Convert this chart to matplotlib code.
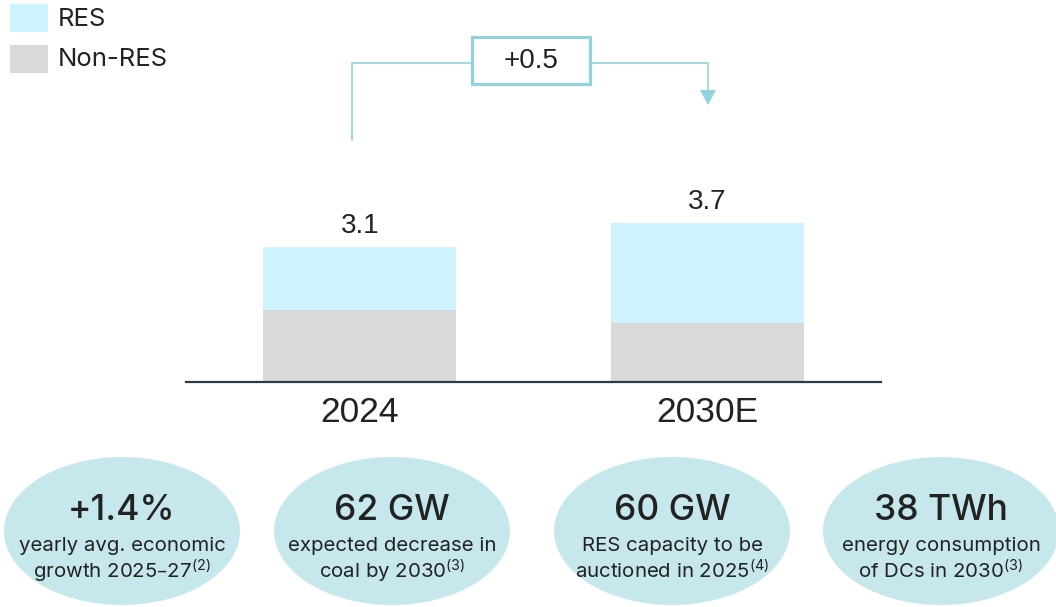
import numpy as np
import matplotlib
matplotlib.use("Agg")
import matplotlib.pyplot as plt
from matplotlib.patches import Rectangle, Ellipse, Polygon

plt.rcParams['font.family'] = ['Inter', 'DejaVu Sans']
plt.rcParams['mathtext.default'] = 'regular'

# data
years = ['2024', '2030E']
non_res = [1.65, 1.36]
res = [1.45, 2.30]
totals = ['3.1', '3.7']
delta_label = '+0.5'
kpi_big = ['+1.4%', '62 GW', '60 GW', '38 TWh']
kpi_line1 = ['yearly avg. economic', 'expected decrease in', 'RES capacity to be', 'energy consumption']
kpi_line2 = ['growth 2025\u201327$^{(2)}$', 'coal by 2030$^{(3)}$', 'auctioned in 2025$^{(4)}$', 'of DCs in 2030$^{(3)}$']

RES_COL = '#cdf4fc'
NON_COL = '#d9d9d9'
LINE_COL = '#8fd3de'
OVAL_COL = '#c6e8ed'
TXT = '#222222'

W, H = 1056, 607
fig = plt.figure(figsize=(W / 100, H / 100), dpi=100)

# bar chart axes (pixel layout)
ax = fig.add_axes([186 / W, (H - 382) / H, 695 / W, (382 - 100) / H])
x = np.arange(len(years))
ax.bar(x, non_res, width=0.556, color=NON_COL)
ax.bar(x, res, width=0.556, bottom=non_res, color=RES_COL)
for i in range(len(years)):
    ax.annotate(totals[i], (x[i], non_res[i] + res[i]), xytext=(0, 15),
                textcoords='offset points', ha='center', va='center',
                fontsize=20, color=TXT, family='Liberation Sans')
ax.set_xlim(-0.5, 1.5)
ax.set_ylim(0, (382 - 100) / 43.5)
ax.set_xticks(x)
ax.set_xticklabels(years, fontsize=25.5, color=TXT, family='Liberation Sans')
ax.tick_params(axis='x', length=0, pad=10)
ax.set_yticks([])
for s in ['top', 'right', 'left']:
    ax.spines[s].set_visible(False)
ax.spines['bottom'].set_color('#2b3b4c')
ax.spines['bottom'].set_linewidth(1.6)

# overlay for decorations, pixel coords
ov = fig.add_axes([0, 0, 1, 1])
ov.set_xlim(0, W)
ov.set_ylim(H, 0)
ov.axis('off')

# legend
ov.add_patch(Rectangle((10, 4), 38, 28, color=RES_COL, lw=0))
ov.add_patch(Rectangle((10, 45), 38, 28, color=NON_COL, lw=0))
ov.text(58, 19, 'RES', fontsize=18.5, va='center', color=TXT)
ov.text(58, 60, 'Non-RES', fontsize=18.5, va='center', color=TXT)

# change connector
ov.plot([352, 352, 472], [140, 63, 63], color=LINE_COL, lw=1.2)
ov.plot([590, 708, 708], [63, 63, 92], color=LINE_COL, lw=1.2)
ov.add_patch(Polygon([(700, 90), (716, 90), (708, 105)], color=LINE_COL, lw=0))
ov.add_patch(Rectangle((472, 37), 118, 47, facecolor='white', edgecolor=LINE_COL, lw=2.2))
ov.text(531, 61, delta_label, fontsize=20, ha='center', va='center', color=TXT,
        family='Liberation Sans')

# KPI ovals
cx = [122, 392, 672, 941]
for i in range(4):
    ov.add_patch(Ellipse((cx[i], 531), 236, 148, color=OVAL_COL, lw=0))
    ov.text(cx[i], 511, kpi_big[i], fontsize=25.5, fontweight='medium',
            ha='center', va='center', color=TXT)
    ov.text(cx[i], 546, kpi_line1[i], fontsize=14.7, ha='center', va='center', color=TXT)
    ov.text(cx[i], 571, kpi_line2[i], fontsize=14.7, ha='center', va='center', color=TXT)

fig.savefig('out.png', dpi=100)
